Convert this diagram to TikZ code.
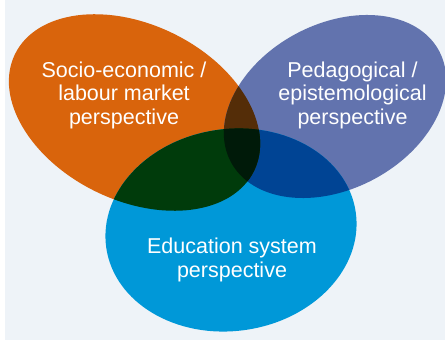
\documentclass[tikz,border=0pt]{standalone}
\usepackage{fontspec}
\setmainfont{Liberation Sans}

\definecolor{pagebg}{HTML}{EEF3F8}
\definecolor{socioorange}{HTML}{D9640C}
\definecolor{pedagblue}{HTML}{6273AE}
\definecolor{educyan}{HTML}{0098D8}
\definecolor{sociopedag}{HTML}{542D08}
\definecolor{socioedu}{HTML}{003B0B}
\definecolor{pedagedu}{HTML}{004494}
\definecolor{allthree}{HTML}{001A09}

\tikzset{
    socio/.style={rotate around={-26:(134.5,227.5)}},
    pedag/.style={rotate around={28:(335,233.5)}},
    edusys/.style={rotate around={8:(231,110)}},
    label/.style={text=white, align=center, inner sep=0pt,
        font=\fontsize{21.5}{23.5}\selectfont},
}

\newcommand\socioellipse{(134.5,227.5) ellipse [x radius=133, y radius=88]}
\newcommand\pedagellipse{(335,233.5) ellipse [x radius=118, y radius=82.5]}
\newcommand\eduellipse{(231,110) ellipse [x radius=126, y radius=101]}

\begin{document}
\begin{tikzpicture}[x=1pt, y=1pt]
        \useasboundingbox (0,0) rectangle (445,340);
        \fill[pagebg] (5,0) rectangle (445,340);

        % the three perspectives
        \fill[socioorange, socio] \socioellipse;
        \fill[pedagblue, pedag] \pedagellipse;
        \fill[educyan, edusys] \eduellipse;

        % overlaps
        \begin{scope}
            \clip[pedag] \pedagellipse;
            \fill[pedagedu, edusys] \eduellipse;
        \end{scope}
        \begin{scope}
            \clip[socio] \socioellipse;
            \fill[sociopedag, pedag] \pedagellipse;
            \fill[socioedu, edusys] \eduellipse;
            \clip[pedag] \pedagellipse;
            \fill[allthree, edusys] \eduellipse;
        \end{scope}

        \node[label] (socioeco) at (124,245) {Socio-economic /\\labour market\\perspective};
        \node[label] (pedagogy) at (352.5,245) {Pedagogical /\\epistemological\\perspective};
        \node[label] (edusystem) at (232,80) {Education system\\perspective};

    \end{tikzpicture}
\end{document}
